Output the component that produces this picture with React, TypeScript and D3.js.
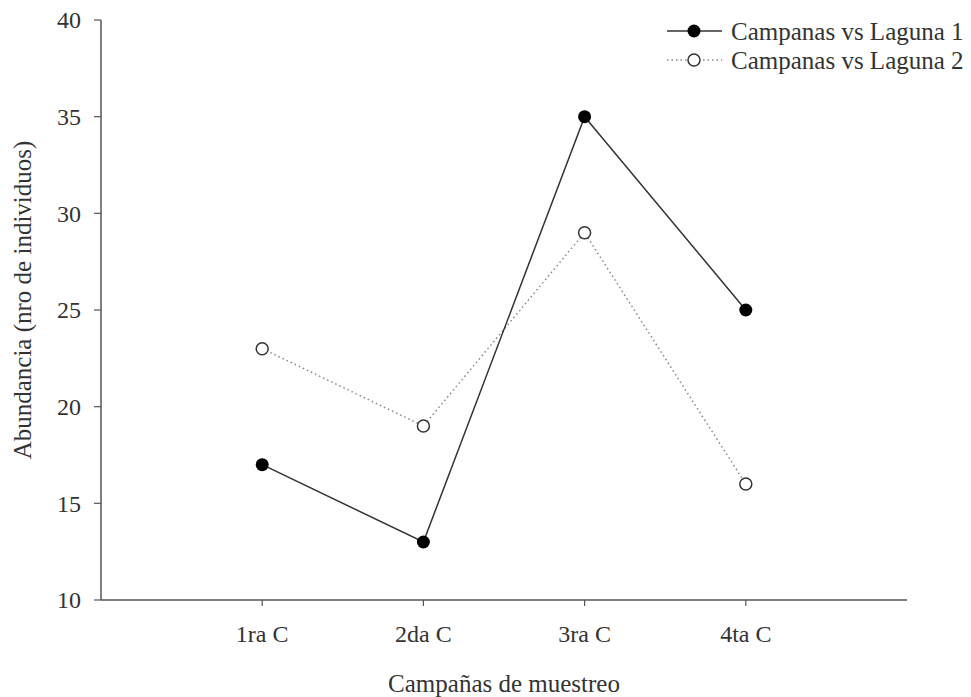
import React from "react";
import * as d3 from "d3";

const categories = ["1ra C", "2da C", "3ra C", "4ta C"];
const laguna1 = [17, 13, 35, 25];
const laguna2 = [23, 19, 29, 16];
const yTicks = [10, 15, 20, 25, 30, 35, 40];
const seriesNames = ["Campanas vs Laguna 1", "Campanas vs Laguna 2"];

const W = 971;
const H = 697;
const FONT = "'Liberation Serif', 'Times New Roman', serif";

export default function App() {
  const x = d3.scaleLinear().domain([0, categories.length + 1]).range([101, 907]);
  const y = d3.scaleLinear().domain([10, 40]).range([600, 20]);
  const line = d3
    .line<number>()
    .x((_, i) => x(i + 1))
    .y((d) => y(d));
  const fs = 24;
  const fsT = 25;
  return (
    <svg width={W} height={H} style={{ position: "absolute", left: 0, top: 0, background: "#fff" }} fontFamily={FONT}>
      <rect width={W} height={H} fill="#fff" />
      {/* axes */}
      <line x1={x(0)} x2={x(0)} y1={y(40)} y2={y(10)} stroke="#555" strokeWidth={1.5} />
      <line x1={x(0)} x2={x(5)} y1={y(10)} y2={y(10)} stroke="#555" strokeWidth={1.5} />
      {yTicks.map((t) => (
        <g key={t}>
          <line x1={x(0) - 7} x2={x(0)} y1={y(t)} y2={y(t)} stroke="#555" strokeWidth={1.2} />
          <text x={81} y={y(t)} dy="0.35em" textAnchor="end" fontSize={fs} fill="#333">
            {t}
          </text>
        </g>
      ))}
      {categories.map((c, i) => (
        <g key={c}>
          <line x1={x(i + 1)} x2={x(i + 1)} y1={y(10)} y2={y(10) + 6} stroke="#555" strokeWidth={1.2} />
          <text x={x(i + 1)} y={634} dy="0.35em" textAnchor="middle" fontSize={fs} fill="#333">
            {c}
          </text>
        </g>
      ))}
      <text x={504} y={683} dy="0.35em" textAnchor="middle" fontSize={fsT} fill="#333">
        Campañas de muestreo
      </text>
      <text
        transform={`translate(22, 300) rotate(-90)`}
        dy="0.35em"
        textAnchor="middle"
        fontSize={fsT}
        fill="#333"
      >
        Abundancia (nro de individuos)
      </text>
      {/* series 2 dotted */}
      <path d={line(laguna2) || ""} fill="none" stroke="#888" strokeWidth={1.5} strokeDasharray="1.5,3" />
      <path d={line(laguna1) || ""} fill="none" stroke="#333" strokeWidth={1.5} />
      {laguna2.map((v, i) => (
        <circle key={"b" + i} cx={x(i + 1)} cy={y(v)} r={6} fill="#fff" stroke="#333" strokeWidth={1.5} />
      ))}
      {laguna1.map((v, i) => (
        <circle key={"a" + i} cx={x(i + 1)} cy={y(v)} r={6.5} fill="#000" />
      ))}
      {/* legend */}
      <g>
        <line x1={667} x2={722} y1={31} y2={31} stroke="#333" strokeWidth={1.5} />
        <circle cx={694} cy={31} r={6.5} fill="#000" />
        <text x={731} y={31} dy="0.35em" fontSize={fsT} fill="#333">
          {seriesNames[0]}
        </text>
        <line x1={667} x2={722} y1={60} y2={60} stroke="#888" strokeWidth={1.5} strokeDasharray="1.5,3" />
        <circle cx={694} cy={60} r={6} fill="#fff" stroke="#333" strokeWidth={1.5} />
        <text x={731} y={60} dy="0.35em" fontSize={fsT} fill="#333">
          {seriesNames[1]}
        </text>
      </g>
    </svg>
  );
}
